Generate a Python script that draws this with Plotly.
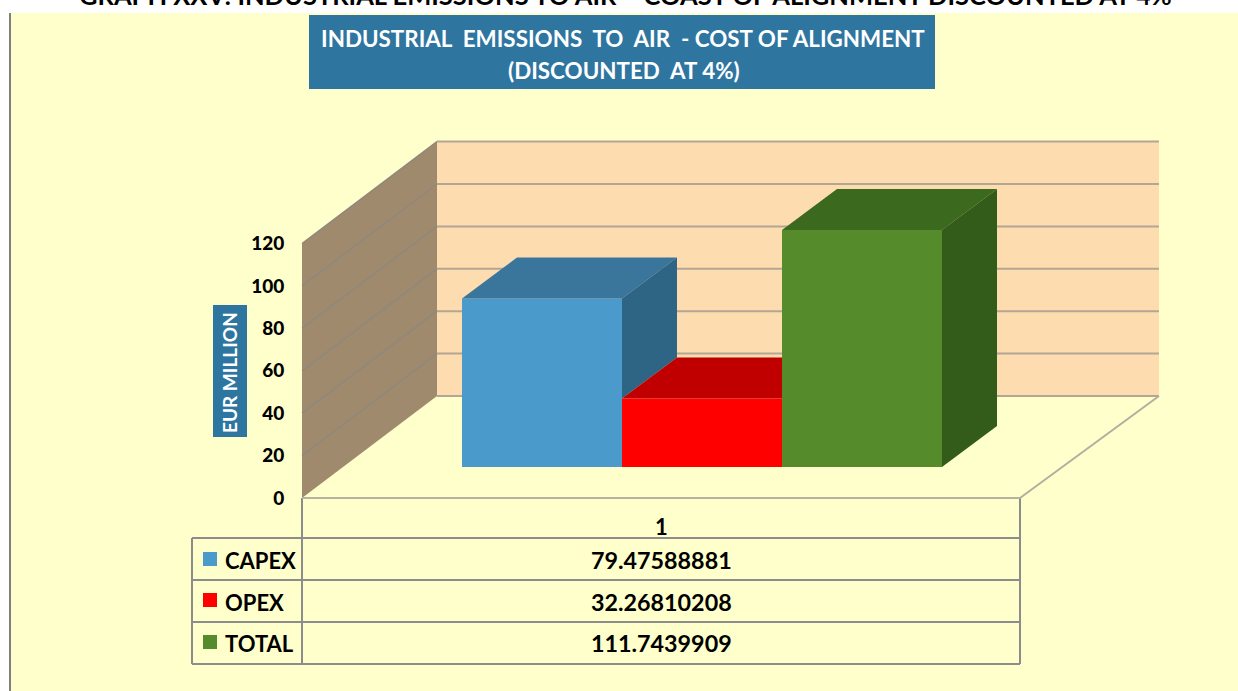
import plotly.graph_objects as go

# ---- data ----
series_names = ["CAPEX", "OPEX", "TOTAL"]
series_values = [79.47588881, 32.26810208, 111.7439909]
value_labels = ["79.47588881", "32.26810208", "111.7439909"]
category_label = "1"
y_ticks = [0, 20, 40, 60, 80, 100, 120]
title_lines = ["INDUSTRIAL\u00a0\u00a0EMISSIONS\u00a0\u00a0TO\u00a0\u00a0AIR\u00a0\u00a0-\u00a0COST OF ALIGNMENT", "(DISCOUNTED\u00a0\u00a0AT 4%)"]
page_heading = "GRAPH XXV: INDUSTRIAL EMISSIONS TO AIR \u2013 COAST OF ALIGNMENT DISCOUNTED AT 4%"
y_title = "EUR MILLION"

# ---- style / layout ----
W, H = 1238, 691
FONT = "Lato"
front_colors = ["#4A9ACB", "#FF0000", "#558B2A"]
top_colors = ["#3A759B", "#C00000", "#3B691E"]
side_colors = ["#2E6585", "#A00000", "#335C1A"]
PANEL = "#FFFFCC"
BOX = "#2E75A0"
LINE = "#8C8C8C"

Y0_PX = 498.0      # pixel of value 0 on the front plane
PX_PER_VALUE = 2.12
SLOT_PX = 160.0    # width of one bar
X0_PX = 542.0      # pixel of bar index 0 centre


def ux(px):
    return (px - X0_PX) / SLOT_PX


def uy(px):
    return (Y0_PX - px) / PX_PER_VALUE


WALL_DX, WALL_DV = 135 / SLOT_PX, 102 / PX_PER_VALUE     # full floor depth
BAR_BASE = 31 / PX_PER_VALUE                              # front of bars above floor front
BAR_DX, BAR_DV = 55 / SLOT_PX, 41 / PX_PER_VALUE          # bar depth

fig = go.Figure()

# bar fronts
for i, (n, v) in enumerate(zip(series_names, series_values)):
    fig.add_trace(go.Bar(x=[i], y=[v], base=[BAR_BASE], width=[1.0], name=n,
                         marker=dict(color=front_colors[i], line=dict(width=0)),
                         showlegend=False, hoverinfo="name+y"))


def poly(xs, ys, color, name):
    fig.add_trace(go.Scatter(x=xs, y=ys, mode="lines", fill="toself", fillcolor=color,
                             line=dict(width=0, color=color), showlegend=False,
                             hoverinfo="skip", name=name))


for i, (n, v) in enumerate(zip(series_names, series_values)):
    l, r = i - 0.5, i + 0.5
    t = BAR_BASE + v
    next_v = series_values[i + 1] if i + 1 < len(series_values) else None
    if next_v is None:
        # top and full side
        poly([l, r, r + BAR_DX, l + BAR_DX], [t, t, t + BAR_DV, t + BAR_DV], top_colors[i], n + " top")
        poly([r, r + BAR_DX, r + BAR_DX, r], [t, t + BAR_DV, BAR_BASE + BAR_DV, BAR_BASE], side_colors[i], n + " side")
    elif next_v < v:
        # side only visible above the shorter neighbour
        poly([l, r, r + BAR_DX, l + BAR_DX], [t, t, t + BAR_DV, t + BAR_DV], top_colors[i], n + " top")
        nt = BAR_BASE + next_v
        poly([r, r + BAR_DX, r + BAR_DX, r], [t, t + BAR_DV, nt + BAR_DV, nt], side_colors[i], n + " side")
    else:
        # top is hidden to the right by the taller neighbour's front
        poly([l, r, r, l + BAR_DX], [t, t, t + BAR_DV, t + BAR_DV], top_colors[i], n + " top")

# ---- shapes ----
shapes = []


def rect_px(x0, y0, x1, y1, color):
    shapes.append(dict(type="rect", xref="paper", yref="paper", x0=x0 / W, x1=x1 / W,
                       y0=1 - y0 / H, y1=1 - y1 / H, fillcolor=color, line=dict(width=0), layer="below"))


def line_px(x0, y0, x1, y1, color=LINE, width=2):
    shapes.append(dict(type="line", xref="paper", yref="paper", x0=x0 / W, x1=x1 / W,
                       y0=1 - y0 / H, y1=1 - y1 / H, line=dict(color=color, width=width), layer="below"))


rect_px(10, 13, W, H, PANEL)
line_px(10, 13, 10, H, "#808080", 2)
rect_px(309, 15, 935, 89, BOX)
rect_px(213, 305, 247, 437, BOX)

# walls on the chart's own value axis
xl, xr = ux(302), ux(1020)
top = max(y_ticks)
shapes.append(dict(type="path", xref="x", yref="y", layer="below", fillcolor="#A08A6E", line=dict(width=0),
                   path=f"M{xl},0 L{xl + WALL_DX},{WALL_DV} L{xl + WALL_DX},{WALL_DV + top} L{xl},{top} Z"))
shapes.append(dict(type="rect", xref="x", yref="y", layer="below", fillcolor="#FDDCB0", line=dict(width=0),
                   x0=xl + WALL_DX, x1=xr + WALL_DX + 4 / SLOT_PX, y0=WALL_DV, y1=WALL_DV + top))
for t in y_ticks:
    if t > 0:
        shapes.append(dict(type="line", xref="x", yref="y", layer="below", x0=xl, y0=t,
                           x1=xl + WALL_DX, y1=t + WALL_DV, line=dict(color="#8F887C", width=1.5)))
    shapes.append(dict(type="line", xref="x", yref="y", layer="below", x0=xl + WALL_DX, y0=t + WALL_DV,
                       x1=xr + WALL_DX + 4 / SLOT_PX, y1=t + WALL_DV, line=dict(color="#B3A695", width=2)))
# floor edges
shapes.append(dict(type="line", xref="x", yref="y", layer="below", x0=xl, y0=0, x1=xr, y1=0,
                   line=dict(color="#B4B4A0", width=2)))
shapes.append(dict(type="line", xref="x", yref="y", layer="below", x0=xr, y0=0, x1=xr + WALL_DX + 4 / SLOT_PX,
                   y1=WALL_DV, line=dict(color="#B0B0A0", width=2)))

# data table grid
for y in (538, 580, 622, 664):
    line_px(192, y, 1020, y)
line_px(192, 538, 192, 664)
line_px(302, 498, 302, 664)
line_px(1020, 498, 1020, 664)

# legend keys
key_y = [559, 600, 642]
for c, y in zip(front_colors, key_y):
    rect_px(203, y - 7, 217, y + 7, c)

# ---- text ----
ann = []


def text_px(x, y, s, size, color="#000000", xanchor="center", yanchor="middle", angle=0):
    ann.append(dict(xref="paper", yref="paper", x=x / W, y=1 - y / H, text=f"<b>{s}</b>", showarrow=False,
                    xanchor=xanchor, yanchor=yanchor, textangle=angle,
                    font=dict(family=FONT, size=size, color=color)))


text_px(625, 12, page_heading, 25.5, yanchor="bottom")
text_px(623, 38, title_lines[0], 22.4, color="#FFFFFF")
text_px(624, 70, title_lines[1], 22.4, color="#FFFFFF")
text_px(230, 372, y_title, 19, color="#FFFFFF", angle=-90)
text_px(661, 526, category_label, 22)
row_y = [560, 602, 643]
for n, lab, y in zip(series_names, value_labels, row_y):
    text_px(223, y, n, 22, xanchor="left")
    text_px(661, y, lab, 23.3)

fig.update_layout(
    width=W, height=H, margin=dict(l=0, r=0, t=0, b=0, pad=0),
    paper_bgcolor="#FFFFFF", plot_bgcolor="rgba(0,0,0,0)",
    barmode="overlay", showlegend=False, shapes=shapes, annotations=ann,
    xaxis=dict(range=[ux(0), ux(W)], visible=False, fixedrange=True),
    yaxis=dict(range=[uy(H), uy(0)], tickvals=y_ticks, ticktext=[str(t) for t in y_ticks],
               tickfont=dict(family=FONT + " Black, " + FONT, size=19, color="#000000"),
               showgrid=False, zeroline=False, showline=False, fixedrange=True,
               anchor="free", position=302 / W, ticks="outside", ticklen=14,
               tickcolor="rgba(0,0,0,0)", side="left"),
)
fig.write_html("out.html", config=dict(displayModeBar=False),
               post_script="document.body.style.margin='0';document.documentElement.style.overflow='hidden';")
